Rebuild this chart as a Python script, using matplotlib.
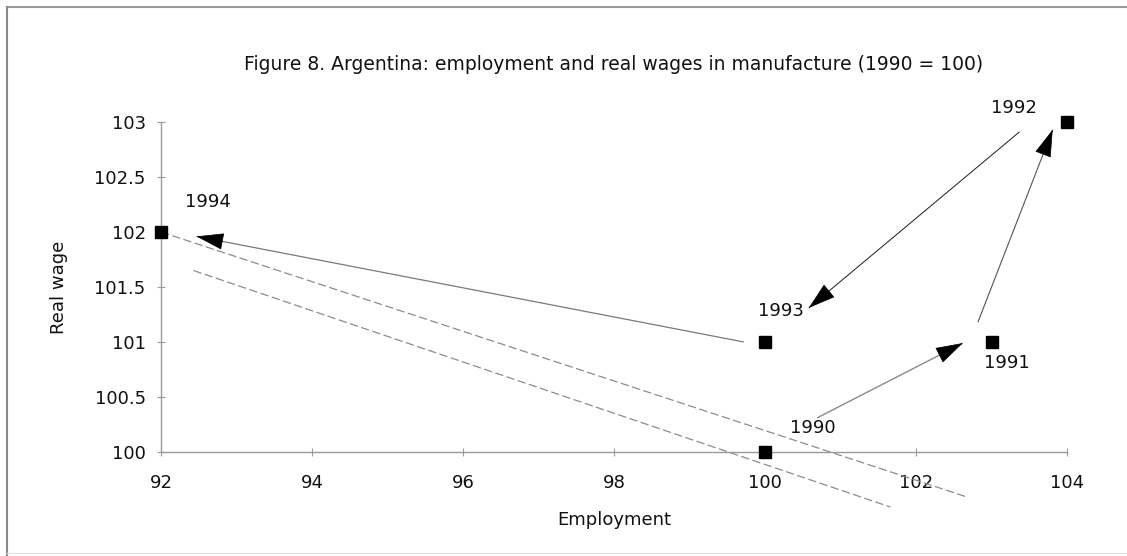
import matplotlib
matplotlib.use('Agg')
import numpy as np
import matplotlib.pyplot as plt
from matplotlib.patches import FancyArrowPatch
from matplotlib.lines import Line2D

# ---------------- data ----------------
years = [1990, 1991, 1992, 1993, 1994]
employment = [100, 103, 104, 100, 92]
real_wage = [100, 101, 103, 101, 102]

x_ticks = [92, 94, 96, 98, 100, 102, 104]
y_ticks = [100, 100.5, 101, 101.5, 102, 102.5, 103]
y_tick_labels = ["100", "100.5", "101", "101.5", "102", "102.5", "103"]

# dashed guide lines (employment, real wage end points)
trend_a_x = [92, 102.68]
trend_a_y = [102, 99.59]
trend_b_x = [92.43, 101.66]
trend_b_y = [101.65, 99.50]

# arrows: tail / head in data units
arrow_tail_x = [100.69, 102.82, 103.37, 99.72]
arrow_tail_y = [100.31, 101.18, 102.91, 101.00]
arrow_head_x = [102.62, 103.81, 100.58, 92.47]
arrow_head_y = [100.99, 102.93, 101.31, 101.96]

title = "Figure 8. Argentina: employment and real wages in manufacture (1990 = 100)"
x_label = "Employment"
y_label = "Real wage"

# ---------------- styles ----------------
label_offsets = [(34.6, 17.3), (11.2, -15.1), (-38.2, 10.1), (11.5, 22.3), (33.5, 21.6)]
arrow_line_colors = ['#8a8a8a', '#555555', '#1a1a1a', '#7a7a7a']
arrow_line_widths = [1.0, 0.8, 0.7, 0.9]
HEAD_LEN_PX = 25.0

plt.rcParams['font.family'] = ['DejaVu Sans']
plt.rcParams['lines.scale_dashes'] = False

W, H = 1127, 556
fig = plt.figure(figsize=(W / 100, H / 100), dpi=100)
ax = fig.add_axes([161 / W, 1 - 452 / H, (1067 - 161) / W, (452 - 122) / H])
ax.set_xlim(92, 104)
ax.set_ylim(100, 103)

for s in ['top', 'right']:
    ax.spines[s].set_visible(False)
for s in ['left', 'bottom']:
    ax.spines[s].set_color('#9a9a9a')
    ax.spines[s].set_linewidth(1.0)

ax.set_xticks(x_ticks)
ax.set_xticklabels([str(v) for v in x_ticks])
ax.set_yticks(y_ticks)
ax.set_yticklabels(y_tick_labels)
ax.tick_params(direction='inout', length=6, width=0.8, color='#9a9a9a',
               labelsize=13, labelcolor='#111111')
ax.tick_params(axis='x', pad=13)
ax.tick_params(axis='y', pad=8)

# dashed lines
for tx, ty in [(trend_a_x, trend_a_y), (trend_b_x, trend_b_y)]:
    ax.plot(tx, ty, color='#8c8c8c', lw=0.9, dashes=(6, 2.5), clip_on=False, zorder=2)

# arrows: grey shaft + solid black head
for i in range(len(arrow_tail_x)):
    tail = np.array([arrow_tail_x[i], arrow_tail_y[i]])
    head = np.array([arrow_head_x[i], arrow_head_y[i]])
    ax.plot([tail[0], head[0]], [tail[1], head[1]], color=arrow_line_colors[i],
            lw=arrow_line_widths[i], solid_capstyle='butt', clip_on=False, zorder=3)
    tp = ax.transData.transform(tail)
    hp = ax.transData.transform(head)
    u = (hp - tp) / np.hypot(*(hp - tp))
    back = ax.transData.inverted().transform(hp - u * (HEAD_LEN_PX - 2))
    arr = FancyArrowPatch(tuple(back), tuple(head),
                          arrowstyle='-|>,head_length=1.8,head_width=0.55',
                          mutation_scale=10, lw=0.5,
                          edgecolor='black', facecolor='black',
                          shrinkA=0, shrinkB=0, clip_on=False, zorder=4)
    ax.add_patch(arr)

# markers
ax.plot(employment, real_wage, ls='none', marker='s', ms=8, color='black',
        clip_on=False, zorder=5)

# year labels
for yr, ex, rw, off in zip(years, employment, real_wage, label_offsets):
    ax.annotate(str(yr), (ex, rw), xytext=off, textcoords='offset points',
                ha='center', va='center', fontsize=13, color='#111111', zorder=6)

# texts
fig.text(613.5 / W, 1 - 65 / H, title, ha='center', va='center', fontsize=13.5, color='#111111')
fig.text(614 / W, 1 - 520 / H, x_label, ha='center', va='center', fontsize=13, color='#111111')
fig.text(59 / W, 1 - 287 / H, y_label, ha='center', va='center', rotation=90,
         fontsize=13, color='#111111')

# figure border (top, left, faint bottom)
fig.add_artist(Line2D([7 / W, 1], [1 - 7 / H, 1 - 7 / H], transform=fig.transFigure,
                      color='#9a9a9a', lw=1.5))
fig.add_artist(Line2D([7 / W, 7 / W], [0, 1 - 7 / H], transform=fig.transFigure,
                      color='#8a8a8a', lw=1.5))
fig.add_artist(Line2D([7 / W, 1], [1 - 553 / H, 1 - 553 / H], transform=fig.transFigure,
                      color='#e4e4e4', lw=1.0))

fig.savefig('out.png', dpi=100)
